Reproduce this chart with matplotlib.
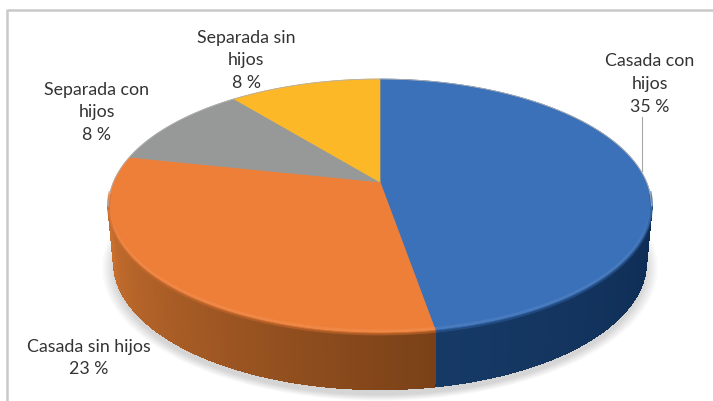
import numpy as np
import matplotlib
matplotlib.use('Agg')
import matplotlib.pyplot as plt
from matplotlib.colors import to_rgb

plt.rcParams['font.family'] = ['Lato', 'DejaVu Sans']

# data
categorias = ['Casada con\nhijos', 'Casada sin hijos', 'Separada con\nhijos', 'Separada sin\nhijos']
valores = [35, 23, 8, 8]
colores = ['#3a71b9', '#ee7f38', '#979999', '#fdb827']
lado_ini = {0: '#0e2c54', 1: '#7a4118'}
lado_fin = {0: '#163a66', 1: '#c9702f'}
pos_etiq = [(650, 84), (89, 358), (97, 112), (246, 60)]

# setup
W, H = 713, 402
cx, cy = 380, 207
d, a, b, c = 266.5, 0.189, 127, 24
grosor = 56
esc = 0.98


def proy(theta):
    # circle seen in perspective, theta clockwise from the back
    X, u = np.sin(theta), np.cos(theta)
    w = 1 + a * u
    return cx + d * X / w, cy - (b * u + c) / w


def mezcla(c1, c2, t):
    return tuple((1 - t) * np.array(to_rgb(c1)) + t * np.array(to_rgb(c2)))


fig = plt.figure(figsize=(W / 100, H / 100), dpi=100)
ax = fig.add_axes([0, 0, 1, 1])
ax.set_xlim(0, W)
ax.set_ylim(H, 0)
ax.axis('off')

# frame
ax.plot([7, 7, W], [H, 10.5, 10.5], color='#c9c9c9', lw=1.8, zorder=1)

# soft shadow under the disc
t_all = np.linspace(0, 2 * np.pi, 300)
xa, ya = proy(t_all)
for g in range(14):
    e = 1 + g * 0.0035
    ax.fill(cx + esc * e * (xa - cx), cy + 6 + grosor + e * (ya - cy), color='k', alpha=0.012, lw=0, zorder=2)

# slices
frac = np.cumsum([0] + valores) / np.sum(valores) * 2 * np.pi
t_izq, t_der = np.arccos(-a), 2 * np.pi - np.arccos(-a)

# side wall, no antialiasing between the strips
for i in range(len(valores)):
    t0, t1 = max(frac[i], t_izq), min(frac[i + 1], t_der)
    if t0 >= t1:
        continue
    ts = np.linspace(t0, t1, 90)
    x, y = proy(ts)
    for j in range(len(ts) - 1):
        col = mezcla(lado_ini[i], lado_fin[i], j / (len(ts) - 2))
        ax.fill([x[j], x[j + 1], cx + esc * (x[j + 1] - cx), cx + esc * (x[j] - cx)],
                [y[j], y[j + 1], y[j + 1] + grosor, y[j] + grosor],
                color=col, lw=1, antialiased=False, zorder=3)

# top face
ap_y = proy(np.pi / 2)[1]
for i in range(len(valores)):
    ts = np.linspace(frac[i], frac[i + 1], 120)
    x, y = proy(ts)
    ax.fill(np.r_[cx, x], np.r_[ap_y, y], color=colores[i], lw=0.5, zorder=4)

# bevel along the front rim
for i in range(len(valores)):
    t0, t1 = max(frac[i], t_izq - 0.1), min(frac[i + 1], t_der + 0.1)
    if t0 >= t1:
        continue
    x, y = proy(np.linspace(t0, t1, 120))
    base = colores[i]
    ax.plot(x, y - 2, color=mezcla(base, '#ffffff', 0.10), lw=2, alpha=0.7, zorder=5, solid_capstyle='butt')
    ax.plot(x, y + 1, color=mezcla(base, lado_ini[i], 0.35), lw=2, alpha=0.6, zorder=5, solid_capstyle='butt')

# thin edge on the back of the disc
x, y = proy(np.linspace(t_der, t_izq + 2 * np.pi, 200))
ax.plot(x, y, color='#b0b0b0', lw=0.6, zorder=5)

# leader line
ax.plot([642, 642], [118, 172], color='#a6a6a6', lw=0.8, zorder=6)

# labels
for nom, v, (lx, ly) in zip(categorias, valores, pos_etiq):
    ax.text(lx, ly, '%s\n%d %%' % (nom, v), ha='center', va='center', fontsize=12.8,
            color='#333333', linespacing=1.5, zorder=7)

fig.savefig('out.png', dpi=100)
